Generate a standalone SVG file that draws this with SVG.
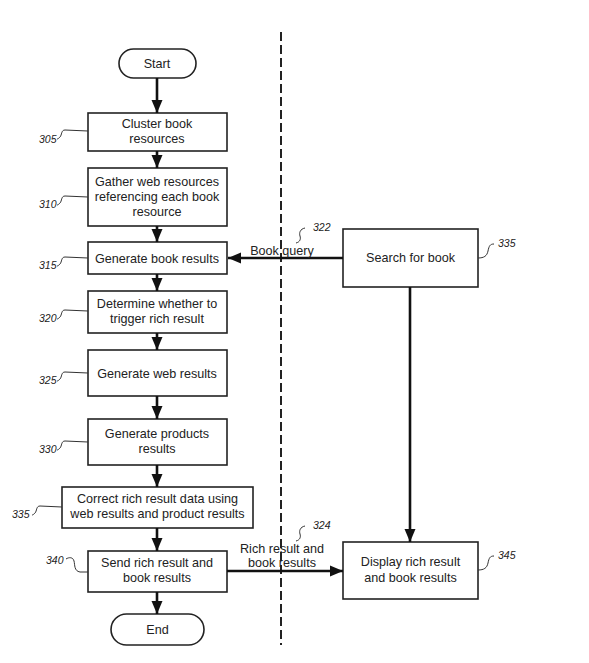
<svg xmlns="http://www.w3.org/2000/svg" width="589" height="663" viewBox="0 0 589 663">
<style>
.box{fill:#fff;stroke:#222;stroke-width:1.6}
.t{font-family:"Liberation Sans",Arial,sans-serif;font-size:12.6px;fill:#222;text-anchor:middle}
.n{font-family:"Liberation Sans",Arial,sans-serif;font-size:10.5px;font-style:italic;fill:#222}
.lead{fill:none;stroke:#333;stroke-width:1}
.arr{fill:none;stroke:#111;stroke-width:2.6}
</style>
<defs>
<marker id="ah" markerUnits="userSpaceOnUse" markerWidth="14" markerHeight="14" viewBox="0 0 14 14" refX="13" refY="7" orient="auto">
<path d="M0,1.5 L13,7 L0,12.5 Z" fill="#111"/>
</marker>
</defs>
<rect width="589" height="663" fill="#fff"/>
<line x1="281" y1="32" x2="281" y2="645" stroke="#222" stroke-width="2" stroke-dasharray="9,4"/>
<g id="start"><rect class="box" x="119" y="49" width="77" height="29" rx="14.5"/><text class="t" x="157" y="67.5">Start</text></g>
<g id="n305"><rect class="box" x="88" y="113" width="139" height="38"/><text class="t" x="157" y="128">Cluster book</text><text class="t" x="157" y="143">resources</text>
<path class="lead" d="M88,131 L65,130 c-4,0 -3,5 -5,7 c-1,1 -2,2 -3,2"/><text class="n" x="39" y="143">305</text></g>
<g id="n310"><rect class="box" x="88" y="168" width="139" height="58"/><text class="t" x="157" y="186">Gather web resources</text><text class="t" x="157" y="201">referencing each book</text><text class="t" x="157" y="216">resource</text>
<path class="lead" d="M88,197 L65,196 c-4,0 -3,5 -5,7 c-1,1 -2,2 -3,2"/><text class="n" x="39" y="208">310</text></g>
<g id="n315"><rect class="box" x="88" y="242" width="139" height="32"/><text class="t" x="157" y="262.5">Generate book results</text>
<path class="lead" d="M88,258 L65,257 c-4,0 -3,5 -5,7 c-1,1 -2,2 -3,2"/><text class="n" x="39" y="269">315</text></g>
<g id="n320"><rect class="box" x="88" y="291" width="139" height="42"/><text class="t" x="157" y="308">Determine whether to</text><text class="t" x="157" y="323">trigger rich result</text>
<path class="lead" d="M88,311 L65,310 c-4,0 -3,5 -5,7 c-1,1 -2,2 -3,2"/><text class="n" x="39" y="322">320</text></g>
<g id="n325"><rect class="box" x="88" y="350" width="139" height="46"/><text class="t" x="157" y="377.5">Generate web results</text>
<path class="lead" d="M88,373 L65,372 c-4,0 -3,5 -5,7 c-1,1 -2,2 -3,2"/><text class="n" x="39" y="384">325</text></g>
<g id="n330"><rect class="box" x="88" y="419" width="139" height="46"/><text class="t" x="157" y="438">Generate products</text><text class="t" x="157" y="453">results</text>
<path class="lead" d="M88,442 L65,441 c-4,0 -3,5 -5,7 c-1,1 -2,2 -3,2"/><text class="n" x="39" y="453">330</text></g>
<g id="n335a"><rect class="box" x="62" y="487" width="191" height="41"/><text class="t" x="157.5" y="503">Correct rich result data using</text><text class="t" x="157.5" y="518">web results and product results</text>
<path class="lead" d="M62,507 L40,506 c-4,0 -3,5 -5,7 c-1,1 -2,2 -3,2"/><text class="n" x="12" y="518">335</text></g>
<g id="n340"><rect class="box" x="88" y="551" width="139" height="41"/><text class="t" x="157" y="567">Send rich result and</text><text class="t" x="157" y="582">book results</text>
<path class="lead" d="M66,559 c3,-2 7,-2 8,2 c1,4 0,10 6,11 L88,572"/><text class="n" x="46" y="564">340</text></g>
<g id="end"><rect class="box" x="111" y="614" width="93" height="31" rx="15.5"/><text class="t" x="157.5" y="634">End</text></g>
<g id="search"><rect class="box" x="343" y="229" width="135" height="58"/><text class="t" x="410.5" y="262">Search for book</text>
<path class="lead" d="M478,258 c6,0 9,-2 10,-7 c1,-5 2,-7 6,-7"/><text class="n" x="498" y="247">335</text></g>
<g id="display"><rect class="box" x="343" y="542" width="135" height="57"/><text class="t" x="410.5" y="566">Display rich result</text><text class="t" x="410.5" y="582">and book results</text>
<path class="lead" d="M478,570 c6,0 9,-2 10,-7 c1,-5 2,-7 6,-7"/><text class="n" x="498" y="559">345</text></g>
<g id="connectors">
<line class="arr" x1="157" y1="78" x2="157" y2="113" marker-end="url(#ah)"/>
<line class="arr" x1="157" y1="151" x2="157" y2="168" marker-end="url(#ah)"/>
<line class="arr" x1="157" y1="226" x2="157" y2="242" marker-end="url(#ah)"/>
<line class="arr" x1="157" y1="274" x2="157" y2="291" marker-end="url(#ah)"/>
<line class="arr" x1="157" y1="333" x2="157" y2="350" marker-end="url(#ah)"/>
<line class="arr" x1="157" y1="396" x2="157" y2="419" marker-end="url(#ah)"/>
<line class="arr" x1="157" y1="465" x2="157" y2="487" marker-end="url(#ah)"/>
<line class="arr" x1="157" y1="528" x2="157" y2="551" marker-end="url(#ah)"/>
<line class="arr" x1="157" y1="592" x2="157" y2="614" marker-end="url(#ah)"/>
<line class="arr" x1="343" y1="258" x2="228" y2="258" marker-end="url(#ah)"/>
<line class="arr" x1="410" y1="287" x2="410" y2="542" marker-end="url(#ah)"/>
<line class="arr" x1="227" y1="571" x2="343" y2="571" marker-end="url(#ah)"/>
<text class="t" x="282" y="255">Book query</text>
<path class="lead" d="M296,243 c4,-1 5,-4 4,-7 c-1,-3 0,-7 5,-8"/><text class="n" x="313" y="231">322</text>
<text class="t" x="282" y="553">Rich result and</text>
<text class="t" x="282" y="567">book results</text>
<path class="lead" d="M296,541 c4,-1 5,-4 4,-7 c-1,-3 0,-7 5,-8"/><text class="n" x="313" y="529">324</text>
</g>
</svg>
